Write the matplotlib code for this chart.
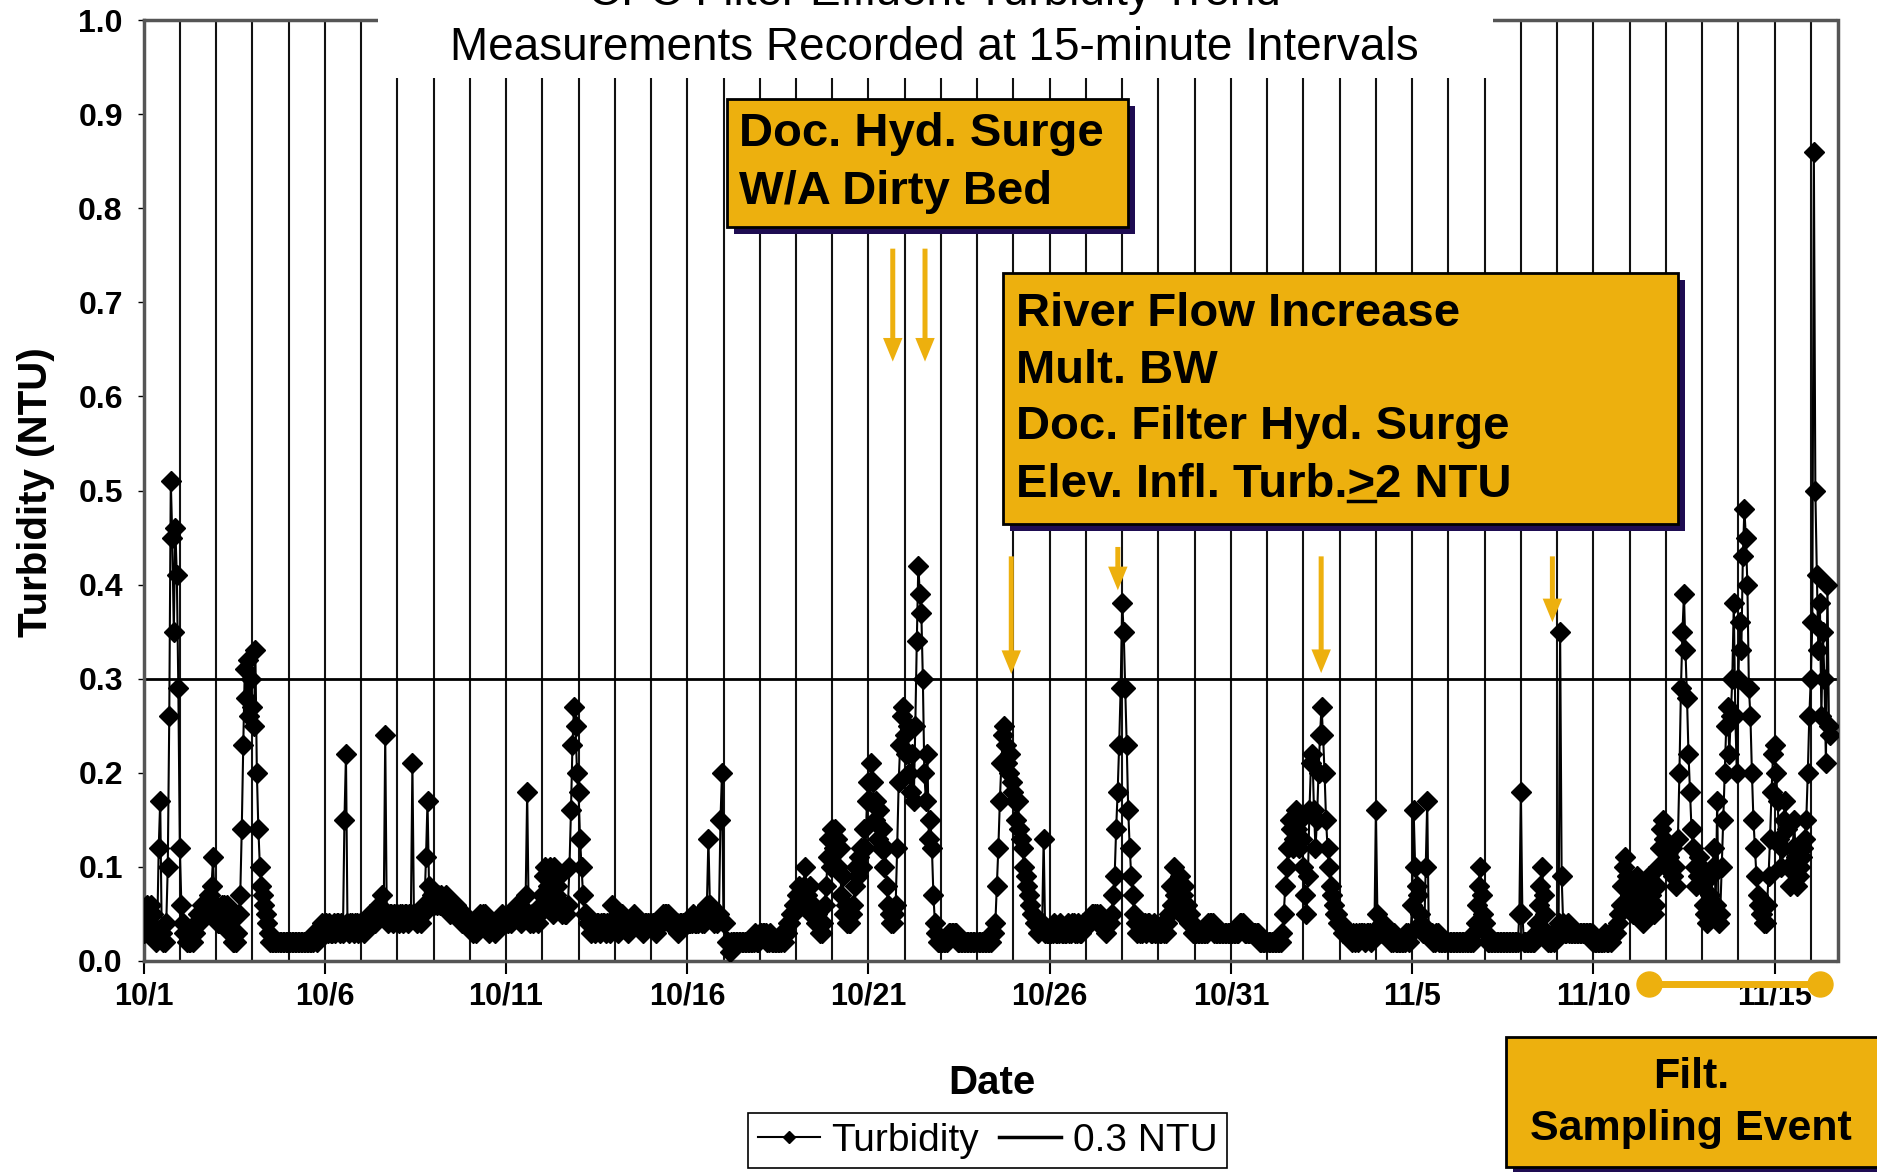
import numpy as np
import matplotlib
matplotlib.use('Agg')
import matplotlib.pyplot as plt
from matplotlib.patches import Rectangle, FancyArrowPatch
from matplotlib.lines import Line2D

plt.rcParams['font.family'] = ['Liberation Sans', 'DejaVu Sans']
plt.rcParams['font.weight'] = 'bold'

# hourly turbidity (NTU), one row per day
oct_hourly = [
    [0.03, 0.04, 0.06, 0.05, 0.04, 0.06, 0.05, 0.03, 0.02, 0.03, 0.12, 0.17, 0.03, 0.02, 0.02, 0.04, 0.10, 0.26, 0.51, 0.45, 0.35, 0.46, 0.41, 0.29],  # 10/1
    [0.12, 0.06, 0.04, 0.03, 0.03, 0.02, 0.02, 0.02, 0.03, 0.02, 0.03, 0.04, 0.05, 0.04, 0.05, 0.06, 0.05, 0.06, 0.05, 0.07, 0.07, 0.08, 0.11, 0.06],
    [0.05, 0.04, 0.04, 0.05, 0.06, 0.06, 0.05, 0.06, 0.04, 0.03, 0.03, 0.02, 0.02, 0.02, 0.03, 0.05, 0.07, 0.14, 0.23, 0.31, 0.28, 0.32, 0.26, 0.30],
    [0.27, 0.25, 0.33, 0.20, 0.14, 0.10, 0.08, 0.07, 0.06, 0.05, 0.04, 0.03, 0.02, 0.02, 0.02, 0.02, 0.02, 0.02, 0.02, 0.02, 0.02, 0.02, 0.02, 0.02],
    [0.02, 0.02, 0.02, 0.02, 0.02, 0.02, 0.02, 0.02, 0.02, 0.02, 0.02, 0.02, 0.02, 0.02, 0.02, 0.02, 0.02, 0.03, 0.03, 0.02, 0.03, 0.03, 0.04, 0.03],  # 10/5
    [0.03, 0.04, 0.03, 0.04, 0.03, 0.03, 0.04, 0.03, 0.04, 0.04, 0.03, 0.04, 0.03, 0.15, 0.22, 0.04, 0.03, 0.04, 0.04, 0.03, 0.04, 0.04, 0.03, 0.04],
    [0.04, 0.04, 0.03, 0.04, 0.04, 0.04, 0.05, 0.04, 0.04, 0.04, 0.05, 0.05, 0.06, 0.05, 0.07, 0.05, 0.24, 0.05, 0.04, 0.05, 0.05, 0.04, 0.05, 0.05],
    [0.05, 0.04, 0.05, 0.05, 0.04, 0.05, 0.05, 0.04, 0.05, 0.05, 0.21, 0.05, 0.05, 0.04, 0.05, 0.05, 0.04, 0.05, 0.06, 0.11, 0.17, 0.08, 0.06, 0.07],
    [0.06, 0.07, 0.06, 0.07, 0.06, 0.07, 0.06, 0.06, 0.07, 0.06, 0.06, 0.05, 0.06, 0.06, 0.05, 0.06, 0.05, 0.05, 0.05, 0.04, 0.05, 0.04, 0.04, 0.04],
    [0.04, 0.04, 0.03, 0.04, 0.03, 0.04, 0.04, 0.05, 0.04, 0.05, 0.05, 0.04, 0.04, 0.03, 0.04, 0.04, 0.04, 0.03, 0.04, 0.04, 0.04, 0.05, 0.04, 0.04],  # 10/10
    [0.04, 0.04, 0.05, 0.04, 0.05, 0.05, 0.05, 0.06, 0.05, 0.05, 0.04, 0.05, 0.05, 0.07, 0.18, 0.05, 0.04, 0.05, 0.04, 0.05, 0.05, 0.04, 0.05, 0.06],
    [0.07, 0.09, 0.10, 0.06, 0.08, 0.10, 0.09, 0.05, 0.10, 0.07, 0.08, 0.09, 0.06, 0.05, 0.06, 0.05, 0.05, 0.06, 0.10, 0.16, 0.23, 0.27, 0.25, 0.20],
    [0.18, 0.13, 0.10, 0.07, 0.05, 0.05, 0.04, 0.04, 0.03, 0.04, 0.04, 0.03, 0.04, 0.04, 0.03, 0.04, 0.04, 0.04, 0.03, 0.04, 0.04, 0.03, 0.06, 0.04],
    [0.04, 0.04, 0.03, 0.04, 0.04, 0.05, 0.04, 0.04, 0.04, 0.03, 0.04, 0.04, 0.04, 0.05, 0.04, 0.04, 0.04, 0.04, 0.04, 0.03, 0.04, 0.04, 0.04, 0.04],
    [0.04, 0.04, 0.04, 0.03, 0.04, 0.04, 0.04, 0.04, 0.05, 0.05, 0.05, 0.05, 0.04, 0.04, 0.04, 0.04, 0.04, 0.04, 0.03, 0.04, 0.04, 0.04, 0.04, 0.04],  # 10/15
    [0.04, 0.04, 0.04, 0.04, 0.05, 0.04, 0.04, 0.04, 0.05, 0.05, 0.04, 0.04, 0.05, 0.06, 0.13, 0.06, 0.05, 0.05, 0.04, 0.05, 0.04, 0.05, 0.15, 0.20],
    [0.04, 0.04, 0.02, 0.02, 0.01, 0.02, 0.02, 0.02, 0.02, 0.02, 0.02, 0.02, 0.02, 0.02, 0.02, 0.02, 0.02, 0.02, 0.02, 0.02, 0.02, 0.03, 0.02, 0.02],
    [0.03, 0.03, 0.03, 0.03, 0.03, 0.02, 0.02, 0.03, 0.02, 0.02, 0.02, 0.02, 0.02, 0.02, 0.02, 0.03, 0.02, 0.03, 0.03, 0.04, 0.04, 0.05, 0.05, 0.06],
    [0.06, 0.07, 0.08, 0.06, 0.07, 0.08, 0.10, 0.07, 0.06, 0.08, 0.05, 0.06, 0.05, 0.04, 0.05, 0.04, 0.03, 0.03, 0.04, 0.06, 0.08, 0.11, 0.13, 0.10],
    [0.14, 0.12, 0.14, 0.13, 0.10, 0.12, 0.07, 0.09, 0.05, 0.06, 0.04, 0.04, 0.04, 0.05, 0.06, 0.08, 0.10, 0.09, 0.11, 0.12, 0.10, 0.14, 0.12, 0.17],  # 10/20
    [0.19, 0.17, 0.21, 0.19, 0.15, 0.17, 0.13, 0.16, 0.12, 0.14, 0.10, 0.12, 0.08, 0.06, 0.05, 0.04, 0.04, 0.05, 0.06, 0.12, 0.19, 0.23, 0.26, 0.27],
    [0.24, 0.22, 0.25, 0.20, 0.18, 0.22, 0.17, 0.25, 0.34, 0.42, 0.39, 0.37, 0.30, 0.20, 0.17, 0.22, 0.13, 0.15, 0.12, 0.07, 0.04, 0.03, 0.02, 0.02],
    [0.02, 0.02, 0.02, 0.02, 0.02, 0.03, 0.03, 0.03, 0.03, 0.03, 0.03, 0.02, 0.02, 0.02, 0.02, 0.02, 0.02, 0.02, 0.02, 0.02, 0.02, 0.02, 0.02, 0.02],
    [0.02, 0.02, 0.02, 0.02, 0.02, 0.02, 0.02, 0.02, 0.02, 0.02, 0.03, 0.03, 0.04, 0.08, 0.12, 0.17, 0.21, 0.24, 0.25, 0.23, 0.21, 0.20, 0.22, 0.19],
    [0.18, 0.17, 0.15, 0.17, 0.14, 0.13, 0.12, 0.10, 0.09, 0.08, 0.07, 0.06, 0.05, 0.05, 0.04, 0.04, 0.03, 0.04, 0.04, 0.04, 0.13, 0.03, 0.03, 0.03],  # 10/25
    [0.03, 0.03, 0.03, 0.04, 0.03, 0.03, 0.03, 0.04, 0.03, 0.03, 0.03, 0.03, 0.04, 0.03, 0.03, 0.04, 0.04, 0.03, 0.03, 0.04, 0.03, 0.03, 0.04, 0.04],
    [0.04, 0.04, 0.04, 0.04, 0.05, 0.05, 0.05, 0.05, 0.04, 0.05, 0.04, 0.04, 0.04, 0.03, 0.04, 0.04, 0.04, 0.05, 0.07, 0.09, 0.14, 0.18, 0.23, 0.29],
    [0.38, 0.35, 0.29, 0.23, 0.16, 0.12, 0.09, 0.07, 0.05, 0.04, 0.03, 0.04, 0.03, 0.03, 0.04, 0.04, 0.03, 0.04, 0.04, 0.03, 0.03, 0.04, 0.03, 0.03],
    [0.03, 0.03, 0.03, 0.04, 0.03, 0.03, 0.04, 0.05, 0.08, 0.06, 0.10, 0.07, 0.08, 0.06, 0.09, 0.05, 0.07, 0.08, 0.05, 0.06, 0.04, 0.05, 0.04, 0.03],
    [0.03, 0.03, 0.03, 0.03, 0.03, 0.03, 0.03, 0.03, 0.03, 0.04, 0.04, 0.04, 0.04, 0.03, 0.03, 0.03, 0.03, 0.03, 0.03, 0.03, 0.03, 0.03, 0.03, 0.03],  # 10/30
    [0.03, 0.03, 0.03, 0.03, 0.03, 0.03, 0.04, 0.04, 0.04, 0.03, 0.03, 0.03, 0.03, 0.03, 0.03, 0.03, 0.03, 0.03, 0.03, 0.02, 0.02, 0.02, 0.02, 0.02],
]

nov_hourly = [
    [0.02, 0.02, 0.02, 0.02, 0.02, 0.02, 0.02, 0.02, 0.02, 0.02, 0.03, 0.05, 0.08, 0.10, 0.12, 0.15, 0.14, 0.12, 0.13, 0.16, 0.14, 0.12, 0.15, 0.13],  # 11/1
    [0.10, 0.07, 0.05, 0.09, 0.16, 0.21, 0.22, 0.16, 0.12, 0.15, 0.20, 0.24, 0.27, 0.24, 0.20, 0.15, 0.12, 0.10, 0.08, 0.07, 0.06, 0.05, 0.05, 0.04],
    [0.04, 0.04, 0.03, 0.03, 0.03, 0.03, 0.03, 0.03, 0.02, 0.03, 0.02, 0.03, 0.02, 0.03, 0.03, 0.03, 0.03, 0.02, 0.03, 0.03, 0.03, 0.02, 0.03, 0.03],
    [0.16, 0.05, 0.03, 0.03, 0.04, 0.04, 0.03, 0.03, 0.03, 0.03, 0.02, 0.02, 0.03, 0.02, 0.02, 0.02, 0.02, 0.02, 0.02, 0.02, 0.03, 0.03, 0.02, 0.03],
    [0.06, 0.16, 0.10, 0.08, 0.07, 0.05, 0.04, 0.03, 0.03, 0.10, 0.17, 0.03, 0.03, 0.03, 0.02, 0.02, 0.03, 0.03, 0.02, 0.02, 0.02, 0.02, 0.02, 0.02],  # 11/5
    [0.02, 0.02, 0.02, 0.02, 0.02, 0.02, 0.02, 0.02, 0.02, 0.02, 0.02, 0.02, 0.02, 0.02, 0.02, 0.02, 0.02, 0.03, 0.04, 0.06, 0.08, 0.10, 0.07, 0.05],
    [0.04, 0.03, 0.02, 0.02, 0.02, 0.02, 0.02, 0.02, 0.02, 0.02, 0.02, 0.02, 0.02, 0.02, 0.02, 0.02, 0.02, 0.02, 0.02, 0.02, 0.02, 0.02, 0.02, 0.05],
    [0.18, 0.05, 0.02, 0.02, 0.02, 0.02, 0.02, 0.02, 0.02, 0.02, 0.03, 0.04, 0.06, 0.08, 0.10, 0.07, 0.05, 0.03, 0.02, 0.02, 0.02, 0.03, 0.02, 0.03],
    [0.03, 0.04, 0.35, 0.09, 0.04, 0.03, 0.03, 0.04, 0.03, 0.03, 0.03, 0.03, 0.03, 0.03, 0.03, 0.03, 0.03, 0.03, 0.03, 0.03, 0.03, 0.03, 0.03, 0.03],
    [0.02, 0.02, 0.02, 0.02, 0.02, 0.02, 0.02, 0.02, 0.03, 0.02, 0.02, 0.03, 0.02, 0.03, 0.03, 0.03, 0.04, 0.05, 0.06, 0.08, 0.10, 0.11, 0.09, 0.08],  # 11/10
    [0.07, 0.06, 0.05, 0.06, 0.08, 0.09, 0.07, 0.06, 0.05, 0.04, 0.05, 0.07, 0.08, 0.09, 0.07, 0.06, 0.05, 0.06, 0.08, 0.10, 0.12, 0.14, 0.15, 0.13],
    [0.10, 0.12, 0.11, 0.10, 0.12, 0.09, 0.10, 0.08, 0.13, 0.20, 0.29, 0.35, 0.39, 0.33, 0.28, 0.22, 0.18, 0.14, 0.12, 0.10, 0.08, 0.09, 0.11, 0.10],
    [0.08, 0.06, 0.05, 0.04, 0.05, 0.07, 0.09, 0.10, 0.12, 0.06, 0.17, 0.04, 0.05, 0.10, 0.15, 0.20, 0.25, 0.27, 0.22, 0.26, 0.30, 0.38, 0.26, 0.20],
    [0.30, 0.36, 0.33, 0.43, 0.48, 0.45, 0.40, 0.29, 0.26, 0.20, 0.15, 0.12, 0.09, 0.07, 0.06, 0.05, 0.05, 0.04, 0.04, 0.06, 0.09, 0.13, 0.18, 0.22],
    [0.23, 0.20, 0.17, 0.13, 0.10, 0.12, 0.15, 0.17, 0.14, 0.10, 0.08, 0.10, 0.12, 0.15, 0.11, 0.08, 0.09, 0.10, 0.11, 0.12, 0.13, 0.15, 0.20, 0.26],  # 11/15
    [0.30, 0.36, 0.86, 0.50, 0.41, 0.33, 0.38, 0.26, 0.35, 0.30, 0.21, 0.40, 0.25, 0.24],
]

tick_days = [0, 5, 10, 15, 20, 25, 30, 35, 40, 45]
tick_labels = ['10/1', '10/6', '10/11', '10/16', '10/21', '10/26', '10/31', '11/5', '11/10', '11/15']
limit_ntu = 0.3

# orange call-out arrows: (day, tail value, tip value)
arrows = [(20.67, 0.757, 0.637), (21.56, 0.757, 0.637), (23.94, 0.43, 0.305),
          (26.88, 0.44, 0.394), (32.49, 0.43, 0.306), (38.87, 0.43, 0.36)]
sampling_days = [41.54, 46.26]

orange = '#EDB00E'
navy = '#1E0C52'

days = oct_hourly + nov_hourly
t = np.concatenate([i + np.arange(len(v)) / 24 for i, v in enumerate(days)])
turb = np.concatenate(days)

W, H = 1877, 1172
fig = plt.figure(figsize=(W / 100, H / 100), dpi=100)
ax = fig.add_axes([143.6 / W, 1 - 961 / H, (1838 - 143.6) / W, 941 / H])
ax.set_xlim(0, 46.75)
ax.set_ylim(0, 1.0)

ax.vlines(np.arange(1, 47), 0, 1, color='#111111', lw=1.5, zorder=1)
ax.axhline(limit_ntu, color='black', lw=2, zorder=2)
ax.plot(t, turb, color='black', lw=1.5, marker='D', ms=10.5, zorder=3)

for s in ax.spines.values():
    s.set_linestyle((0, (1, 1)))
    s.set_color('#555555')
    s.set_linewidth(2.5)

ax.set_xticks(tick_days, tick_labels)
ax.set_yticks(np.arange(0, 1.01, 0.1))
ax.yaxis.set_major_formatter('{x:.1f}')
ax.tick_params(axis='x', length=9, width=1.5, pad=6, labelsize=22)
ax.tick_params(axis='y', length=4, width=1, pad=11, labelsize=23)

# arrows and sampling bar
for d, top, tip in arrows:
    ax.add_patch(FancyArrowPatch((d, top), (d, tip),
                                 arrowstyle='simple,head_length=1.7,head_width=1.4,tail_width=0.36',
                                 mutation_scale=10, lw=0, color=orange, shrinkA=0, shrinkB=0, zorder=5))
ax.plot(sampling_days, [-0.0244, -0.0244], color=orange, lw=5, marker='o', ms=18,
        clip_on=False, zorder=5)

# axis titles
fig.text(36 / W, 1 - 492 / H, 'Turbidity (NTU)', rotation=90, ha='center', va='center', fontsize=29)
fig.text(992 / W, 1 - 1083 / H, 'Date', ha='center', va='center', fontsize=29)

# chart title, partly cut off at the top as in the source
fig.add_artist(Rectangle((378 / W, 1 - 78 / H), 1115 / W, 80 / H, transform=fig.transFigure,
                         facecolor='white', edgecolor='none', zorder=9))
fig.text(934 / W, 1 + 7 / H, 'CFC Filter Effluent Turbidity Trend', ha='center', va='center',
         fontsize=33, fontweight='normal', zorder=10)
fig.text(934 / W, 1 - 48 / H, 'Measurements Recorded at 15-minute Intervals', ha='center', va='center',
         fontsize=33, fontweight='normal', zorder=10)


def callout(x0, y0, x1, y1):
    dx, dy = 7 / W, 7 / H
    fx, fy, fw, fh = x0 / W, 1 - y1 / H, (x1 - x0) / W, (y1 - y0) / H
    fig.add_artist(Rectangle((fx + dx, fy - dy), fw, fh, transform=fig.transFigure,
                             facecolor=navy, edgecolor='none', zorder=11))
    fig.add_artist(Rectangle((fx, fy), fw, fh, transform=fig.transFigure,
                             facecolor=orange, edgecolor='black', lw=2, zorder=12))


callout(727, 99, 1128, 227)
fig.text(739 / W, 1 - 134 / H, 'Doc. Hyd. Surge', va='center', fontsize=34, zorder=13)
fig.text(739 / W, 1 - 192 / H, 'W/A Dirty Bed', va='center', fontsize=34, zorder=13)

callout(1003, 273, 1678, 524)
lines2 = ['River Flow Increase', 'Mult. BW', 'Doc. Filter Hyd. Surge', 'Elev. Infl. Turb.>2 NTU']
for txt, yy in zip(lines2, [314, 371, 427, 485]):
    last = fig.text(1016 / W, 1 - yy / H, txt, va='center', fontsize=34, zorder=13)

# underline the ">" so it reads as "greater or equal"
r = fig.canvas.get_renderer()
pre = fig.text(1016 / W, 1 - 485 / H, 'Elev. Infl. Turb.', va='center', fontsize=34)
gt = fig.text(1016 / W, 1 - 485 / H, '>', va='center', fontsize=34)
b_pre = pre.get_window_extent(r)
b_gt = gt.get_window_extent(r)
b_all = last.get_window_extent(r)
pre.remove()
gt.remove()
uy = b_all.y0 + 0.14 * b_all.height
fig.add_artist(Line2D([b_pre.x1 / W, (b_pre.x1 + b_gt.width) / W], [uy / H, uy / H],
                      transform=fig.transFigure, color='black', lw=2.5, zorder=13))

callout(1506, 1037, 1900, 1167)
fig.text(1691 / W, 1 - 1077 / H, 'Filt.', ha='center', va='center', fontsize=31, zorder=13)
fig.text(1691 / W, 1 - 1129 / H, 'Sampling Event', ha='center', va='center', fontsize=31, zorder=13)

# legend
handles = [Line2D([], [], color='black', lw=1.5, marker='D', ms=6),
           Line2D([], [], color='black', lw=2.5)]
leg = fig.legend(handles, ['Turbidity', '0.3 NTU'], loc='upper left', bbox_to_anchor=(748 / W, 1 - 1113 / H),
                 ncol=2, prop={'weight': 'normal', 'size': 28}, frameon=True, fancybox=False,
                 edgecolor='black', framealpha=1, handlelength=1.6, handletextpad=0.3, columnspacing=0.5,
                 borderpad=0.25, borderaxespad=0)
leg.get_frame().set_linewidth(1.2)

fig.savefig('out.png', dpi=100)
